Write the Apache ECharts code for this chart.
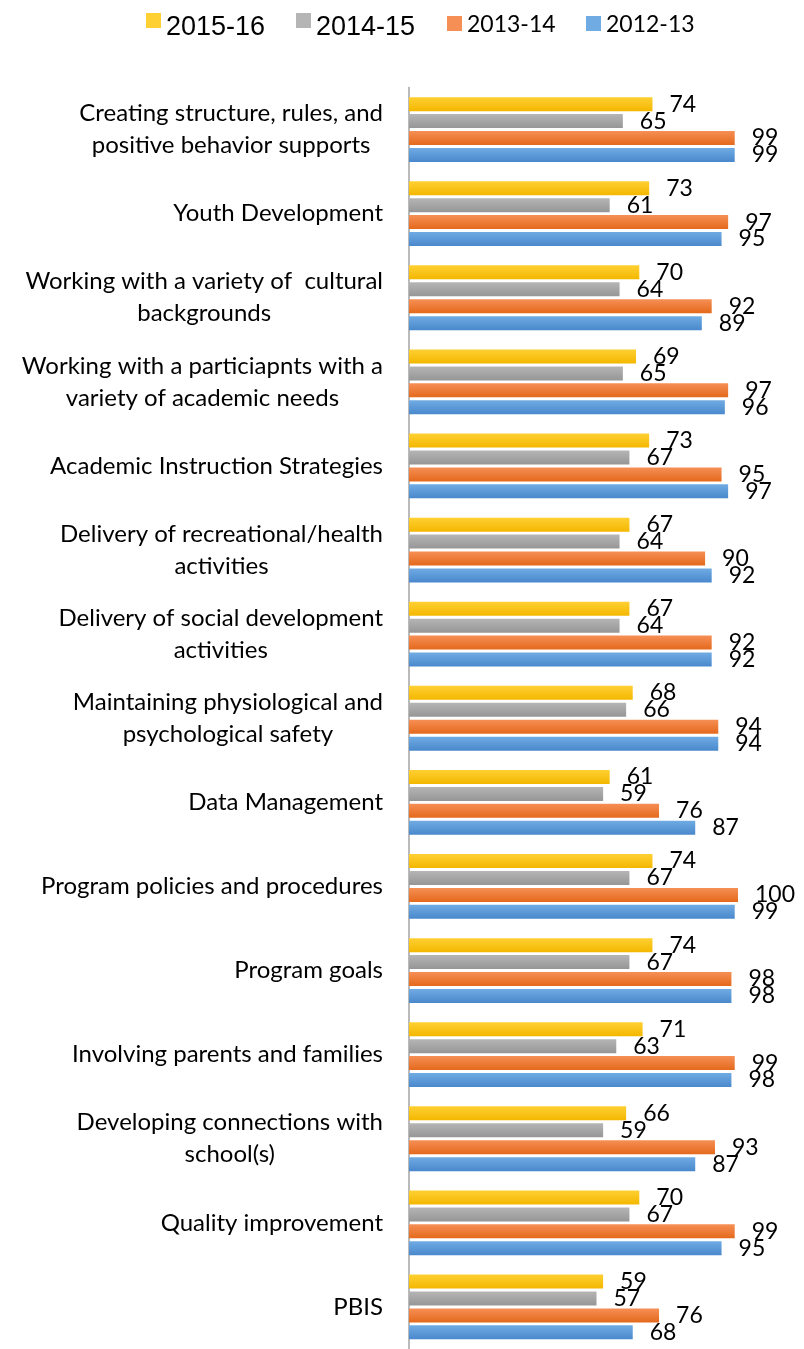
<!DOCTYPE html>
<html>
<head>
<meta charset="utf-8">
<script src="https://cdn.jsdelivr.net/npm/echarts@6/dist/echarts.min.js"></script>
<style>
  html, body { margin: 0; padding: 0; background: #fff; }
  #chart { width: 804px; height: 1349px; }
</style>
</head>
<body>
<div id="chart"></div>
<script>
// Training topics (top to bottom), line breaks as shown on the axis
const categories = [
  'Creating structure, rules, and\npositive behavior supports',
  'Youth Development',
  'Working with a variety of  cultural\nbackgrounds',
  'Working with a particiapnts with a\nvariety of academic needs',
  'Academic Instruction Strategies',
  'Delivery of recreational/health\nactivities',
  'Delivery of social development\nactivities',
  'Maintaining physiological and\npsychological safety',
  'Data Management',
  'Program policies and procedures',
  'Program goals',
  'Involving parents and families',
  'Developing connections with\nschool(s)',
  'Quality improvement',
  'PBIS'
];

const yearNames = ['2015-16', '2014-15', '2013-14', '2012-13'];

const values2015_16 = [74, 73, 70, 69, 73, 67, 67, 68, 61, 74, 74, 71, 66, 70, 59];
const values2014_15 = [65, 61, 64, 65, 67, 64, 64, 66, 59, 67, 67, 63, 59, 67, 57];
const values2013_14 = [99, 97, 92, 97, 95, 90, 92, 94, 76, 100, 98, 99, 93, 99, 76];
const values2012_13 = [99, 95, 89, 96, 97, 92, 92, 94, 87, 99, 98, 98, 87, 95, 68];

const seriesValues = [values2015_16, values2014_15, values2013_14, values2012_13];

// Vertical gradient fills per year
const fills = [
  ['#FFD033', '#F3B700'],
  ['#B5B5B5', '#969696'],
  ['#F68F55', '#E4691C'],
  ['#70ABE3', '#4988CC']
];

const grad = (c) => new echarts.graphic.LinearGradient(0, 0, 0, 1, [
  { offset: 0, color: c[0] },
  { offset: 1, color: c[1] }
]);

const chart = echarts.init(document.getElementById('chart'), null, { renderer: 'canvas' });

// Legend: one block per year so each entry sits at its own spot;
// the two newest years use a larger face that hangs below the swatch
const legendLeft = [146, 296, 447, 586];
const legendText = [
  { fontFamily: 'Liberation Sans', fontSize: 27, padding: [14, 0, 0, 0], color: '#000' },
  { fontFamily: 'Liberation Sans', fontSize: 27, padding: [14, 0, 0, 0], color: '#000' },
  { fontFamily: 'Lato', fontSize: 23, padding: [2, 0, 0, 0], color: '#000' },
  { fontFamily: 'Lato', fontSize: 23, padding: [2, 0, 0, 0], color: '#000' }
];

const legends = yearNames.map((name, i) => ({
  data: [name],
  left: legendLeft[i],
  top: 13,
  padding: 0,
  icon: 'rect',
  itemWidth: 15,
  itemHeight: 15,
  itemStyle: { color: fills[i][0] },
  formatter: (n) => '{t|' + n + '}',
  textStyle: { rich: { t: legendText[i] } },
  selectedMode: false
}));

const series = yearNames.map((name, i) => ({
  name: name,
  type: 'bar',
  data: seriesValues[i],
  barWidth: 14,
  barGap: '21%',
  itemStyle: { color: grad(fills[i]) },
  label: {
    show: true,
    position: 'right',
    distance: 17,
    color: '#000',
    fontFamily: 'Lato',
    fontSize: 23
  },
  emphasis: { disabled: true },
  animation: false
}));

chart.setOption({
  backgroundColor: '#fff',
  animation: false,
  legend: legends,
  grid: { left: 409, width: 329, top: 87.5, bottom: -5.8, containLabel: false },
  xAxis: {
    type: 'value',
    min: 0,
    max: 100,
    show: false
  },
  yAxis: {
    type: 'category',
    data: categories,
    inverse: true,
    axisLine: { show: true, lineStyle: { color: '#A3A3A3', width: 1.5 } },
    axisTick: { show: false },
    splitLine: { show: false },
    axisLabel: {
      margin: 26,
      align: 'right',
      formatter: (v) => v.split('\n').map((l) => '{c|' + l + '}').join('\n'),
      rich: {
        c: {
          align: 'center',
          fontFamily: 'Lato',
          fontSize: 24,
          lineHeight: 32,
          color: '#000'
        }
      }
    }
  },
  series: series
});
</script>
</body>
</html>
